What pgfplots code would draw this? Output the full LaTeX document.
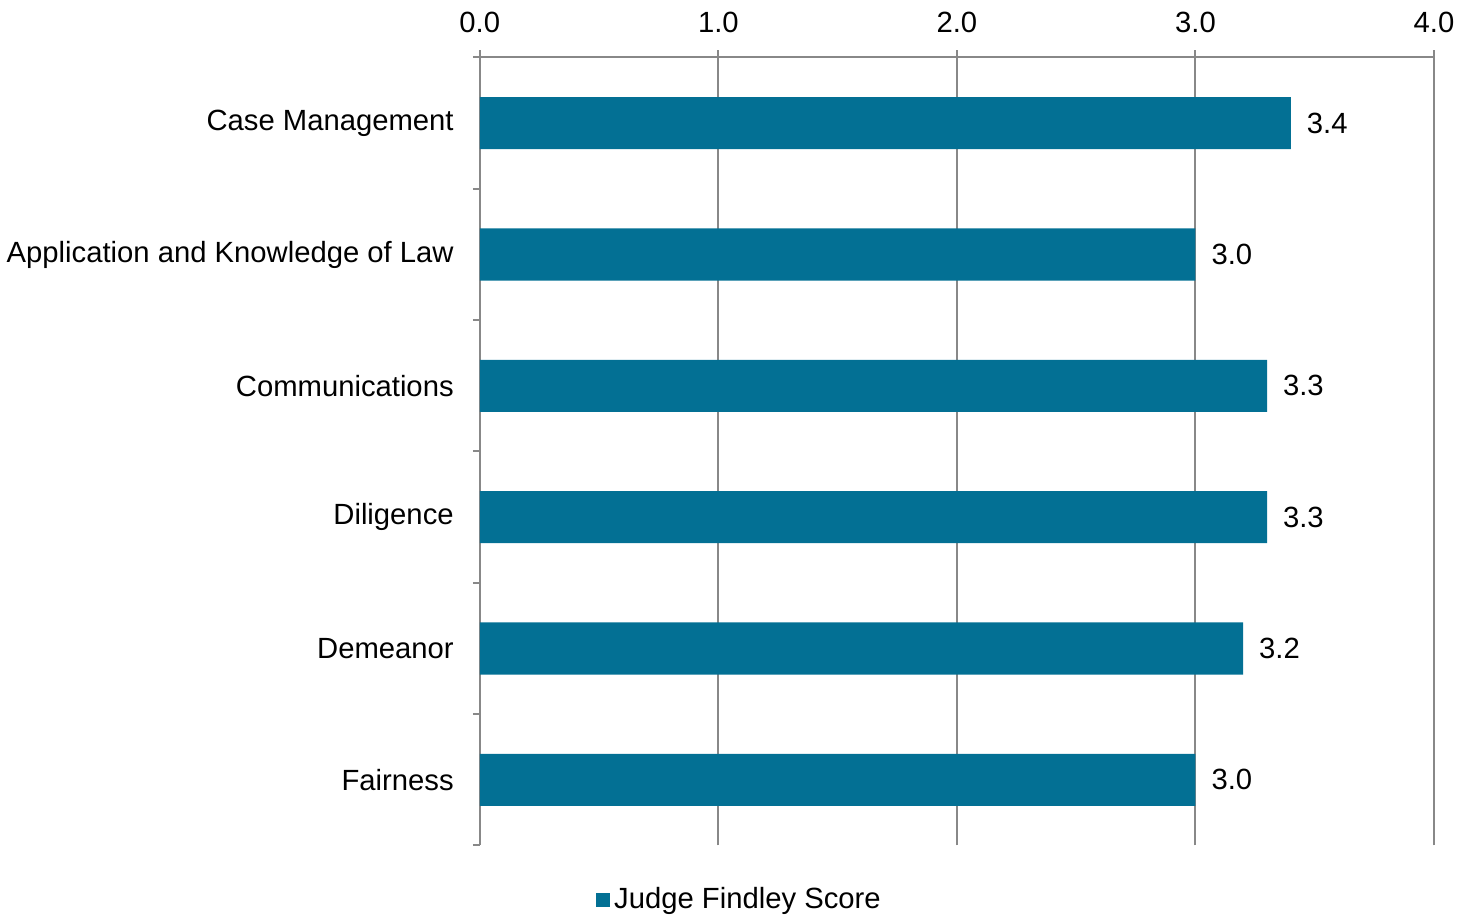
\documentclass[border=0pt]{standalone}
\usepackage{pgfplots}
\pgfplotsset{compat=1.18}
\usepackage{fontspec}
\setmainfont{Liberation Sans}
\definecolor{barcolor}{RGB}{3,112,148}
\definecolor{gridgray}{RGB}{136,136,136}
\newcommand{\chartfont}{\fontsize{14.6pt}{17pt}\selectfont}
\begin{document}
\begin{tikzpicture}
\begin{axis}[
    width=476.5pt, height=393.5pt, scale only axis,
    xbar, bar width=26pt,
    xmin=0, xmax=4, ymin=-0.5, ymax=5.5,
    axis x line*=top, axis y line*=left,
    axis line style={gridgray, line width=1pt, -},
    xtick={0,1,2,3,4},
    /pgf/number format/assume math mode=true,
    xticklabel style={/pgf/number format/fixed, /pgf/number format/fixed zerofill,
        /pgf/number format/precision=1, yshift=5.5pt},
    xmajorgrids, grid style={gridgray, line width=1pt},
    tick align=outside, major tick length=3.5pt,
    tick style={gridgray, line width=1pt},
    ytick={-0.5,0.5,1.5,2.5,3.5,4.5,5.5}, yticklabels={},
    extra y ticks={0,1,2,3,4,5},
    extra y tick labels={Fairness,Demeanor,Diligence,Communications,Application and Knowledge of Law,Case Management},
    extra y tick style={major tick length=0pt, yticklabel style={xshift=-9.5pt}},
    tick label style={font=\chartfont, black},
    clip=false,
    nodes near coords={\pgfmathprintnumber[fixed,fixed zerofill,precision=1]{\pgfplotspointmeta}},
    nodes near coords style={font=\chartfont, black, anchor=west, xshift=4.5pt},
    legend style={at={(0.273,-0.069)}, anchor=center, draw=none, fill=none,
        inner sep=0pt, outer sep=0pt, font=\chartfont},
]
\addplot[fill=barcolor, draw=none,
    legend image code/.code={\fill[barcolor] (0pt,-3.6pt) rectangle (7.2pt,3.6pt);}]
    coordinates {(3.0,0) (3.2,1) (3.3,2) (3.3,3) (3.0,4) (3.4,5)};
\addlegendentry{Judge Findley Score}
\end{axis}
\path ([xshift=7pt]current bounding box.east);
\path ([yshift=2.5pt]current bounding box.north);
\end{tikzpicture}
\end{document}
